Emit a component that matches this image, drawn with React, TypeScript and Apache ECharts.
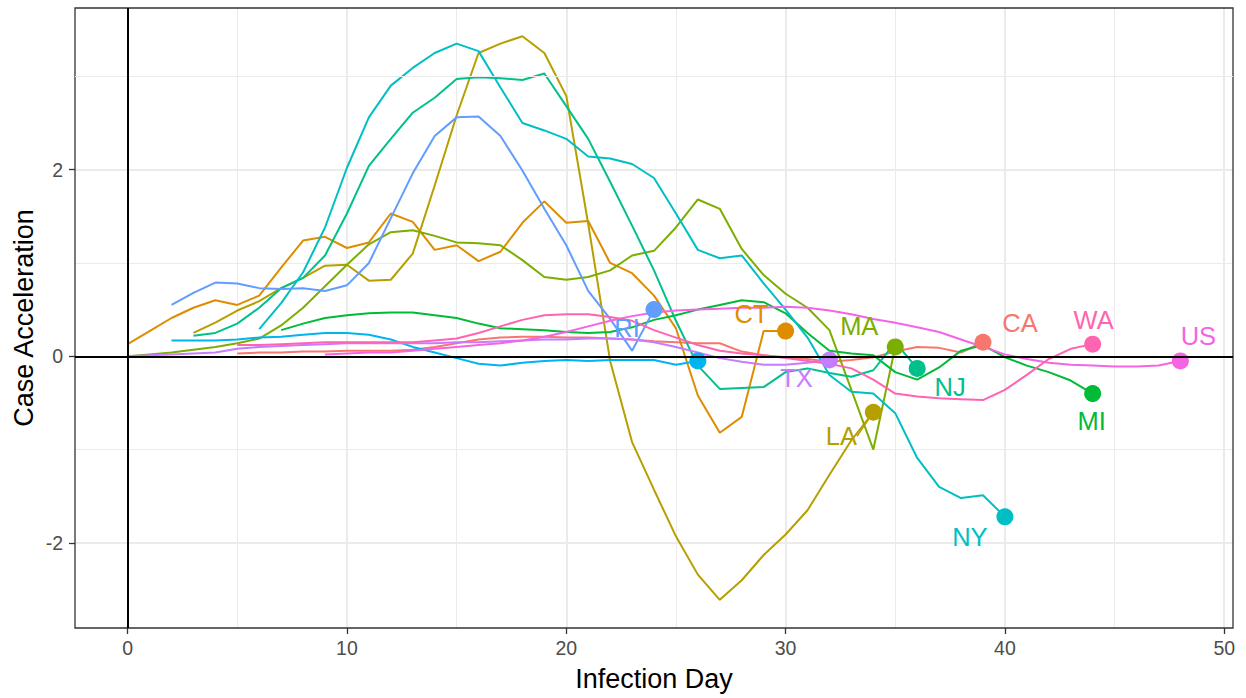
import React, { useEffect, useRef } from "react";
import * as echarts from "echarts";

// ---- data (start day + values per day) ----
const CA_START = 5;
const CA = [0.03, 0.04, 0.04, 0.05, 0.05, 0.06, 0.06, 0.06, 0.07, 0.10, 0.14, 0.18, 0.20, 0.21, 0.21, 0.20, 0.20, 0.19, 0.18, 0.16, 0.15, 0.14, 0.14, 0.05, 0.01, -0.01, -0.03, -0.06, -0.04, -0.01, 0.05, 0.10, 0.09, 0.04, 0.15];
const CT_START = 0;
const CT = [0.13, 0.27, 0.41, 0.52, 0.60, 0.55, 0.65, 0.95, 1.24, 1.28, 1.16, 1.22, 1.53, 1.44, 1.14, 1.19, 1.02, 1.12, 1.43, 1.66, 1.43, 1.45, 1.0, 0.89, 0.65, 0.30, -0.42, -0.82, -0.65, 0.27, 0.27];
const LA_START = 3;
const LA = [0.25, 0.36, 0.49, 0.59, 0.73, 0.84, 0.97, 0.98, 0.81, 0.82, 1.10, 1.83, 2.58, 3.25, 3.35, 3.43, 3.25, 2.79, 1.42, -0.05, -0.92, -1.43, -1.93, -2.34, -2.61, -2.40, -2.13, -1.91, -1.65, -1.27, -0.90, -0.60];
const MA_START = 0;
const MA = [0.0, 0.02, 0.04, 0.07, 0.10, 0.14, 0.19, 0.33, 0.52, 0.75, 0.98, 1.2, 1.33, 1.35, 1.29, 1.22, 1.21, 1.19, 1.03, 0.85, 0.82, 0.85, 0.92, 1.08, 1.13, 1.38, 1.68, 1.58, 1.15, 0.87, 0.67, 0.52, 0.28, -0.36, -1.0, 0.1];
const MI_START = 7;
const MI = [0.28, 0.35, 0.41, 0.44, 0.46, 0.47, 0.47, 0.44, 0.41, 0.35, 0.30, 0.29, 0.28, 0.26, 0.25, 0.26, 0.31, 0.39, 0.44, 0.50, 0.55, 0.60, 0.58, 0.46, 0.25, 0.06, 0.03, 0.01, -0.17, -0.25, -0.12, 0.06, 0.12, -0.01, -0.10, -0.17, -0.26, -0.40];
const NJ_START = 3;
const NJ = [0.22, 0.25, 0.35, 0.52, 0.73, 0.84, 1.08, 1.53, 2.04, 2.33, 2.61, 2.77, 2.97, 2.99, 2.98, 2.96, 3.03, 2.68, 2.33, 1.87, 1.40, 0.92, 0.38, -0.10, -0.35, -0.34, -0.33, -0.17, -0.13, -0.18, -0.22, -0.15, 0.15, -0.13];
const NY_START = 6;
const NY = [0.29, 0.57, 0.90, 1.38, 2.02, 2.56, 2.90, 3.09, 3.25, 3.35, 3.27, 2.88, 2.50, 2.42, 2.33, 2.14, 2.12, 2.06, 1.91, 1.53, 1.14, 1.05, 1.08, 0.78, 0.50, 0.20, -0.20, -0.38, -0.40, -0.61, -1.09, -1.40, -1.52, -1.49, -1.72];
const PA_START = 2;
const PA = [0.17, 0.17, 0.17, 0.18, 0.20, 0.21, 0.23, 0.25, 0.25, 0.23, 0.18, 0.10, 0.04, -0.02, -0.08, -0.10, -0.07, -0.05, -0.04, -0.05, -0.04, -0.04, -0.04, -0.09, -0.05];
const RI_START = 2;
const RI = [0.55, 0.68, 0.79, 0.78, 0.73, 0.72, 0.73, 0.70, 0.76, 1.0, 1.48, 1.96, 2.36, 2.56, 2.57, 2.36, 1.99, 1.58, 1.19, 0.70, 0.40, 0.06, 0.50];
const TX_START = 0;
const TX = [0, 0.01, 0.02, 0.03, 0.04, 0.08, 0.10, 0.11, 0.12, 0.13, 0.14, 0.14, 0.14, 0.14, 0.14, 0.15, 0.15, 0.16, 0.17, 0.18, 0.18, 0.19, 0.19, 0.18, 0.15, 0.10, 0.04, -0.02, -0.06, -0.09, -0.09, -0.07, -0.04];
const US_START = 9;
const US = [0.02, 0.03, 0.04, 0.04, 0.06, 0.08, 0.10, 0.12, 0.14, 0.17, 0.21, 0.26, 0.32, 0.38, 0.43, 0.47, 0.49, 0.50, 0.51, 0.52, 0.52, 0.53, 0.52, 0.49, 0.45, 0.40, 0.36, 0.31, 0.26, 0.18, 0.10, 0.02, -0.03, -0.07, -0.09, -0.10, -0.11, -0.11, -0.10, -0.05];
const WA_START = 5;
const WA = [0.12, 0.12, 0.13, 0.14, 0.15, 0.15, 0.15, 0.15, 0.15, 0.17, 0.19, 0.25, 0.32, 0.39, 0.44, 0.45, 0.45, 0.42, 0.38, 0.28, 0.20, 0.12, 0.06, 0.03, 0.01, -0.02, -0.05, -0.08, -0.13, -0.25, -0.40, -0.43, -0.45, -0.46, -0.47, -0.36, -0.20, -0.03, 0.08, 0.13];

const X_TICKS = [0, 10, 20, 30, 40, 50];
const Y_TICKS = [-2, 0, 2];
const Y_MINOR_EXTRA = [3];

// ---- styling ----
const FONT = "'Liberation Sans', Arial, Helvetica, sans-serif";
const SERIES = [
  { name: "CA", start: CA_START, values: CA, color: "#F8766D", label: true, off: [37, -19] },
  { name: "CT", start: CT_START, values: CT, color: "#DE8C00", label: true, off: [-34, -17] },
  { name: "LA", start: LA_START, values: LA, color: "#B79F00", label: true, off: [-32, 24], line: true },
  { name: "MA", start: MA_START, values: MA, color: "#7CAE00", label: true, off: [-36, -21] },
  { name: "MI", start: MI_START, values: MI, color: "#00BA38", label: true, off: [-1, 27] },
  { name: "NJ", start: NJ_START, values: NJ, color: "#00C08B", label: true, off: [33, 19] },
  { name: "NY", start: NY_START, values: NY, color: "#00BFC4", label: true, off: [-35, 20] },
  { name: "PA", start: PA_START, values: PA, color: "#00B4F0", label: false, off: [0, 0] },
  { name: "RI", start: RI_START, values: RI, color: "#619CFF", label: true, off: [-27, 18] },
  { name: "TX", start: TX_START, values: TX, color: "#C77CFF", label: true, off: [-33, 18] },
  { name: "US", start: US_START, values: US, color: "#F564E3", label: true, off: [18, -25] },
  { name: "WA", start: WA_START, values: WA, color: "#FF64B0", label: true, off: [1, -24] },
];

const PANEL = { left: 75, top: 8, width: 1158, height: 620 };
const X_RANGE = [-2.4, 50.4];
const Y_RANGE = [-2.912, 3.732];

export default function App() {
  const ref = useRef<HTMLDivElement>(null);
  useEffect(() => {
    if (!ref.current) return;
    const chart = echarts.init(ref.current, null, { renderer: "svg" });

    const xs = PANEL.width / (X_RANGE[1] - X_RANGE[0]);
    const ys = PANEL.height / (Y_RANGE[1] - Y_RANGE[0]);
    const px = (v: number) => PANEL.left + (v - X_RANGE[0]) * xs;
    const py = (v: number) => PANEL.top + (Y_RANGE[1] - v) * ys;
    const xMin = X_TICKS[0], xMax = X_TICKS[X_TICKS.length - 1];
    const yMin = Y_TICKS[0], yMax = Y_TICKS[Y_TICKS.length - 1];

    const lineSeries: any[] = SERIES.map((s) => ({
      type: "line",
      name: s.name,
      xAxisIndex: 0,
      yAxisIndex: 0,
      data: s.values.map((v, i) => [s.start + i, v]),
      symbol: "none",
      silent: true,
      z: 3,
      lineStyle: { color: s.color, width: 2 },
      itemStyle: { color: s.color },
      emphasis: { disabled: true },
    }));

    const dotSeries: any[] = SERIES.map((s) => {
      const last = s.values.length - 1;
      const o: any = {
        type: "scatter",
        name: s.name + " end",
        xAxisIndex: 0,
        yAxisIndex: 0,
        data: [[s.start + last, s.values[last]]],
        symbolSize: 17,
        silent: true,
        z: 4,
        itemStyle: { color: s.color, opacity: 1 },
        emphasis: { disabled: true },
        label: {
          show: s.label,
          position: "inside",
          formatter: s.name,
          fontSize: 25.5,
          fontFamily: FONT,
          color: s.color,
          align: "center",
          verticalAlign: "middle",
        },
      };
      if ((s as any).line) {
        o.labelLayout = { dx: s.off[0], dy: s.off[1] };
        o.labelLine = { show: true, lineStyle: { color: s.color, width: 1.5 } };
      } else {
        o.label.offset = s.off;
      }
      return o;
    });

    const minorGrid = {
      type: "line",
      xAxisIndex: 0,
      yAxisIndex: 0,
      data: [[0, 0]],
      symbol: "none",
      lineStyle: { opacity: 0 },
      silent: true,
      z: 1,
      markLine: {
        silent: true,
        symbol: ["none", "none"],
        label: { show: false },
        lineStyle: { color: "#EBEBEB", width: 1, type: "solid" },
        emphasis: { disabled: true },
        data: Y_MINOR_EXTRA.map((v) => ({ yAxis: v })),
      },
    };

    const refLines = {
      type: "line",
      xAxisIndex: 0,
      yAxisIndex: 0,
      data: [[0, 0]],
      symbol: "none",
      lineStyle: { opacity: 0 },
      silent: true,
      z: 2,
      markLine: {
        silent: true,
        symbol: ["none", "none"],
        label: { show: false },
        lineStyle: { color: "#000000", width: 2, type: "solid" },
        emphasis: { disabled: true },
        data: [{ xAxis: 0 }, { yAxis: 0 }],
      },
    };

    const option: any = {
      animation: false,
      textStyle: { fontFamily: FONT },
      grid: [
        { ...PANEL, show: true, borderColor: "#333333", borderWidth: 1.3, backgroundColor: "transparent", z: 5 },
        { left: px(xMin), width: px(xMax) - px(xMin), top: PANEL.top, height: PANEL.height },
        { left: PANEL.left, width: PANEL.width, top: py(yMax), height: py(yMin) - py(yMax) },
      ],
      xAxis: [
        {
          gridIndex: 0, type: "value", min: X_RANGE[0], max: X_RANGE[1],
          axisLine: { show: false }, axisTick: { show: false }, axisLabel: { show: false }, splitLine: { show: false },
          name: "Infection Day", nameLocation: "middle", nameGap: 37,
          nameTextStyle: { fontSize: 27, color: "#000000", fontFamily: FONT },
        },
        {
          gridIndex: 1, type: "value", min: xMin, max: xMax, interval: 10,
          axisLine: { show: false },
          axisTick: { show: true, length: 6, lineStyle: { color: "#333333", width: 1.3 } },
          axisLabel: { margin: 10, fontSize: 19.5, color: "#4D4D4D", fontFamily: FONT },
          splitLine: { show: true, lineStyle: { color: "#EBEBEB", width: 2 } },
          minorTick: { show: false, splitNumber: 2 },
          minorSplitLine: { show: true, lineStyle: { color: "#EBEBEB", width: 1 } },
        },
        { gridIndex: 2, type: "value", show: false, min: 0, max: 1 },
      ],
      yAxis: [
        {
          gridIndex: 0, type: "value", min: Y_RANGE[0], max: Y_RANGE[1],
          axisLine: { show: false }, axisTick: { show: false }, axisLabel: { show: false }, splitLine: { show: false },
          name: "Case Acceleration", nameLocation: "middle", nameGap: 38, nameRotate: 90,
          nameTextStyle: { fontSize: 27, color: "#000000", fontFamily: FONT },
        },
        { gridIndex: 1, type: "value", show: false, min: 0, max: 1, splitLine: { show: false } },
        {
          gridIndex: 2, type: "value", min: yMin, max: yMax, interval: 2,
          axisLine: { show: false },
          axisTick: { show: true, length: 6, lineStyle: { color: "#333333", width: 1.3 } },
          axisLabel: { margin: 12, fontSize: 19.5, color: "#4D4D4D", fontFamily: FONT },
          splitLine: { show: true, lineStyle: { color: "#EBEBEB", width: 2 } },
          minorTick: { show: false, splitNumber: 2 },
          minorSplitLine: { show: true, lineStyle: { color: "#EBEBEB", width: 1 } },
        },
      ],
      series: [minorGrid, refLines, ...lineSeries, ...dotSeries],
    };
    chart.setOption(option);
    return () => chart.dispose();
  }, []);
  return (
    <div
      ref={ref}
      style={{ position: "absolute", left: 0, top: 0, width: 1246, height: 698, background: "#ffffff" }}
    />
  );
}
